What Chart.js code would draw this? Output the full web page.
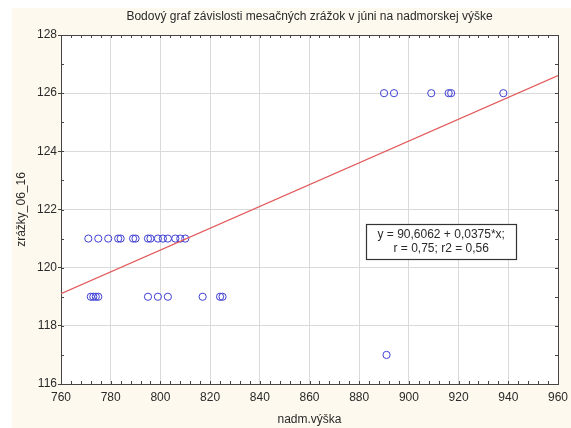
<!DOCTYPE html>
<html>
<head>
<meta charset="utf-8">
<script src="https://cdn.jsdelivr.net/npm/chart.js@4"></script>
<style>
  body { margin: 0; background: #fff; }
  canvas { display: block; }
</style>
</head>
<body>
<canvas id="chart" width="571" height="428"></canvas>
<script>
// nadmorská výška staníc (m) a zrážky v júni
const elevations = [
  771, 775, 779, 783, 784, 789, 790, 795, 796, 799, 801, 803, 806, 808, 810,
  772, 773, 774, 775, 795, 799, 803, 817, 824, 825,
  890, 894, 909, 916, 917, 938,
  891
];
const rainfall = [
  121, 121, 121, 121, 121, 121, 121, 121, 121, 121, 121, 121, 121, 121, 121,
  119, 119, 119, 119, 119, 119, 119, 119, 119, 119,
  126, 126, 126, 126, 126, 126,
  117
];

// regresná priamka a korelácia
const intercept = 90.6062;
const slope = 0.0375;
const rValue = 0.75;
const r2Value = 0.56;

const xTicks = [760, 780, 800, 820, 840, 860, 880, 900, 920, 940, 960];
const yTicks = [116, 118, 120, 122, 124, 126, 128];

const chartTitle = "Bodový graf závislosti mesačných zrážok v júni na nadmorskej výške";

const FONT = "'Liberation Sans', Arial, sans-serif";
const TEXT = "#2a2a2a";

const points = elevations.map((x, i) => ({ x: x, y: rainfall[i] }));
const fitLine = [xTicks[0], xTicks[xTicks.length - 1]].map(x => ({ x: x, y: intercept + slope * x }));

const fmt = v => String(v).replace(".", ",");

// pozadie stránky a bielej plochy grafu
const backdrop = {
  id: "backdrop",
  beforeDraw(chart) {
    const { ctx, chartArea: a } = chart;
    ctx.save();
    ctx.fillStyle = "#ffffff";
    ctx.fillRect(0, 0, chart.width, chart.height);
    ctx.fillStyle = "#fdf9ee";
    ctx.fillRect(12, 8, chart.width - 12, chart.height - 8);
    ctx.fillStyle = "#ffffff";
    ctx.fillRect(a.left, a.top, a.right - a.left, a.bottom - a.top);
    // nadpis nad stredom plochy grafu
    ctx.fillStyle = TEXT;
    ctx.font = "12px " + FONT;
    ctx.textAlign = "center";
    ctx.textBaseline = "middle";
    ctx.fillText(chartTitle, (a.left + a.right) / 2, 17);
    ctx.restore();
  }
};

// rámik a vedľajšie značky na osiach
const frame = {
  id: "frame",
  beforeDatasetsDraw(chart) {
    const { ctx, chartArea: a, scales: { x, y } } = chart;
    ctx.save();
    ctx.strokeStyle = "#444";
    ctx.lineWidth = 1;
    ctx.strokeRect(Math.round(a.left) + 0.5, Math.round(a.top) + 0.5,
      Math.round(a.right - a.left), Math.round(a.bottom - a.top));
    ctx.beginPath();
    for (let v = x.min; v <= x.max; v += 4) {
      const px = Math.round(x.getPixelForValue(v)) + 0.5;
      ctx.moveTo(px, a.bottom); ctx.lineTo(px, a.bottom - 3);
      ctx.moveTo(px, a.top); ctx.lineTo(px, a.top + 3);
    }
    for (let v = y.min; v <= y.max; v += 1) {
      const py = Math.round(y.getPixelForValue(v)) + 0.5;
      ctx.moveTo(a.left, py); ctx.lineTo(a.left + 3, py);
      ctx.moveTo(a.right, py); ctx.lineTo(a.right - 3, py);
    }
    ctx.stroke();
    ctx.restore();
  }
};

// rámček s rovnicou regresie
const equationBox = {
  id: "equationBox",
  afterDatasetsDraw(chart) {
    const { ctx, scales: { x, y } } = chart;
    const cx = x.getPixelForValue(913);
    const cy = y.getPixelForValue(120.9);
    const w = 150, h = 35;
    ctx.save();
    ctx.fillStyle = "#ffffff";
    ctx.fillRect(cx - w / 2, cy - h / 2, w, h);
    ctx.strokeStyle = "#333";
    ctx.lineWidth = 1.2;
    ctx.strokeRect(Math.round(cx - w / 2) + 0.5, Math.round(cy - h / 2) + 0.5, w, h);
    ctx.fillStyle = TEXT;
    ctx.font = "12px " + FONT;
    ctx.textAlign = "center";
    ctx.textBaseline = "middle";
    ctx.fillText("y = " + fmt(intercept) + " + " + fmt(slope) + "*x;", cx, cy - 7);
    ctx.fillText("r = " + fmt(rValue) + "; r2 = " + fmt(r2Value), cx, cy + 7);
    ctx.restore();
  }
};

new Chart(document.getElementById("chart"), {
  type: "scatter",
  data: {
    datasets: [
      {
        type: "line",
        data: fitLine,
        borderColor: "#e35a5c",
        borderWidth: 1.2,
        pointRadius: 0,
        fill: false
      },
      {
        data: points,
        pointStyle: "circle",
        pointRadius: 3.6,
        borderColor: "#4040d4",
        backgroundColor: "rgba(0,0,0,0)",
        borderWidth: 1
      }
    ]
  },
  options: {
    responsive: false,
    animation: false,
    layout: { padding: { left: 0, right: 13, top: 35, bottom: 0 } },
    plugins: {
      legend: { display: false },
      tooltip: { enabled: false },
      title: { display: false }
    },
    scales: {
      x: {
        type: "linear",
        min: 760,
        max: 960,
        afterBuildTicks: s => { s.ticks = xTicks.map(v => ({ value: v })); },
        afterFit: s => { s.height = 44; s.paddingLeft = 0; s.paddingRight = 0; },
        grid: { color: "#dadada", drawTicks: false },
        border: { display: false },
        ticks: { padding: 6, color: TEXT, font: { family: FONT, size: 12 } },
        title: {
          display: true,
          text: "nadm.výška",
          color: TEXT,
          font: { family: FONT, size: 12 },
          padding: { top: 0, bottom: 1 }
        }
      },
      y: {
        type: "linear",
        min: 116,
        max: 128,
        afterBuildTicks: s => { s.ticks = yTicks.map(v => ({ value: v })); },
        afterFit: s => { s.width = 61; s.paddingTop = 0; s.paddingBottom = 0; },
        grid: { color: "#dadada", tickLength: 3, tickColor: "#444" },
        border: { display: false },
        ticks: { padding: 1, color: TEXT, font: { family: FONT, size: 12 } },
        title: {
          display: true,
          text: "zrážky_06_16",
          color: TEXT,
          font: { family: FONT, size: 12 },
          padding: { top: 14, bottom: 0 }
        }
      }
    }
  },
  plugins: [backdrop, frame, equationBox]
});
</script>
</body>
</html>
